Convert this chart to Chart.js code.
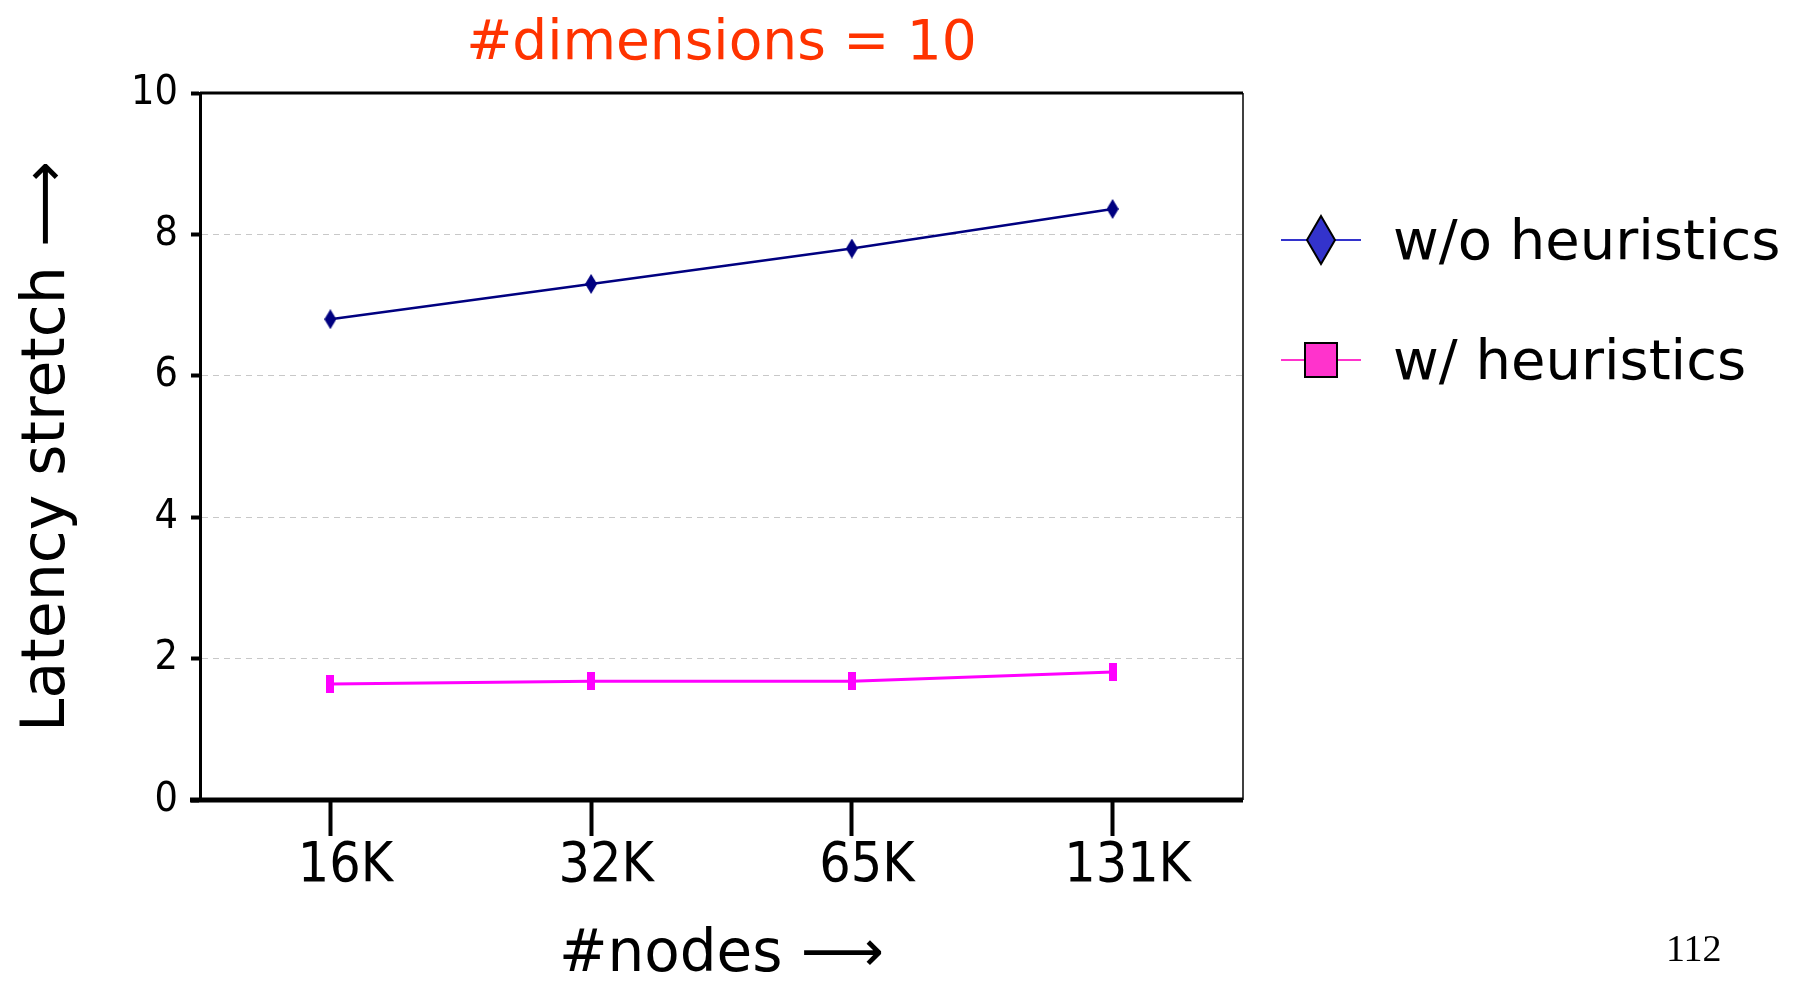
<!DOCTYPE html>
<html>
<head>
<meta charset="utf-8">
<script src="https://cdn.jsdelivr.net/npm/chart.js@4.4.1/dist/chart.umd.min.js"></script>
<style>
  html, body { margin: 0; padding: 0; background: #fff; }
  #wrap { position: relative; width: 1804px; height: 982px; }
  #pagina { position: absolute; left: 1666px; top: 926px; font: 38px 'Liberation Serif', 'DejaVu Serif', serif; color: #000; }
</style>
</head>
<body>
<div id="wrap">
  <canvas id="grafico" width="1804" height="982"></canvas>
  <div id="pagina">112</div>
</div>
<script>
// Dados
const nos = ['16K', '32K', '65K', '131K'];
const semHeuristicas = [6.8, 7.3, 7.8, 8.36];
const comHeuristicas = [1.64, 1.68, 1.68, 1.81];
const yTicks = [0, 2, 4, 6, 8, 10];

const fonteNarrow = "'Liberation Sans Narrow', 'DejaVu Sans Condensed', 'Liberation Sans', sans-serif";
const fonteTexto = "'DejaVu Sans', 'Noto Sans', sans-serif";

// Marcadores dos pontos (desenhados em canvas pequeno)
function marcador(w, h, desenhar) {
  const c = document.createElement('canvas');
  c.width = w;
  c.height = h;
  desenhar(c.getContext('2d'), w, h);
  return c;
}

const losango = marcador(12, 20, (ctx, w, h) => {
  ctx.fillStyle = '#000080';
  ctx.beginPath();
  ctx.moveTo(w / 2, 0);
  ctx.lineTo(w, h / 2);
  ctx.lineTo(w / 2, h);
  ctx.lineTo(0, h / 2);
  ctx.closePath();
  ctx.fill();
});

const barrinha = marcador(8, 18, (ctx, w, h) => {
  ctx.fillStyle = '#ff00ff';
  ctx.fillRect(0, 0, w, h);
});

// Moldura: borda de cima, da direita e eixo de baixo
const moldura = {
  id: 'moldura',
  beforeDatasetsDraw(chart) {
    const { ctx, chartArea: { left, right, top, bottom } } = chart;
    ctx.save();
    ctx.strokeStyle = '#000';
    ctx.lineWidth = 3;
    ctx.beginPath();
    ctx.moveTo(left, top);
    ctx.lineTo(right, top);
    ctx.stroke();
    ctx.lineWidth = 1.5;
    ctx.beginPath();
    ctx.moveTo(right, top);
    ctx.lineTo(right, bottom);
    ctx.stroke();
    ctx.lineWidth = 5;
    ctx.beginPath();
    ctx.moveTo(left - 10, bottom);
    ctx.lineTo(right, bottom);
    ctx.stroke();
    ctx.restore();
  }
};

// Legenda à direita
const legendaLateral = {
  id: 'legendaLateral',
  afterDraw(chart, args, opts) {
    const { ctx, chartArea } = chart;
    ctx.save();
    chart.data.datasets.forEach((ds, i) => {
      const y = chartArea.top + opts.top + i * opts.spacing;
      const x0 = chartArea.right + opts.offset;
      const cx = x0 + 40;

      ctx.strokeStyle = ds.legendColor;
      ctx.lineWidth = 2;
      ctx.beginPath();
      ctx.moveTo(x0, y);
      ctx.lineTo(x0 + 80, y);
      ctx.stroke();

      ctx.fillStyle = ds.legendColor;
      ctx.strokeStyle = '#000';
      ctx.lineWidth = 2;
      ctx.beginPath();
      if (ds.legendMarker === 'diamond') {
        ctx.moveTo(cx, y - 24);
        ctx.lineTo(cx + 14, y);
        ctx.lineTo(cx, y + 24);
        ctx.lineTo(cx - 14, y);
        ctx.closePath();
      } else {
        ctx.rect(cx - 16, y - 17, 32, 34);
      }
      ctx.fill();
      ctx.stroke();

      ctx.fillStyle = '#000';
      ctx.font = `56px ${fonteTexto}`;
      ctx.textAlign = 'left';
      ctx.textBaseline = 'middle';
      ctx.fillText(ds.label, x0 + 112, y + opts.textShift);
    });
    ctx.restore();
  }
};

const grafico = new Chart(document.getElementById('grafico'), {
  type: 'line',
  data: {
    labels: nos,
    datasets: [
      {
        label: 'w/o heuristics',
        data: semHeuristicas,
        borderColor: '#000080',
        backgroundColor: '#000080',
        borderWidth: 2.5,
        pointStyle: losango,
        pointRadius: 10,
        pointHoverRadius: 10,
        legendColor: '#3333cc',
        legendMarker: 'diamond'
      },
      {
        label: 'w/ heuristics',
        data: comHeuristicas,
        borderColor: '#ff00ff',
        backgroundColor: '#ff00ff',
        borderWidth: 3,
        pointStyle: barrinha,
        pointRadius: 10,
        pointHoverRadius: 10,
        legendColor: '#ff33cc',
        legendMarker: 'square'
      }
    ]
  },
  options: {
    responsive: false,
    animation: false,
    layout: { padding: { top: 0, right: 561, bottom: 0, left: 0 } },
    plugins: {
      legend: { display: false },
      tooltip: { enabled: false },
      title: {
        display: true,
        fullSize: false,
        text: '#dimensions = 10',
        color: '#ff3300',
        font: { family: fonteTexto, size: 55, weight: 'normal', lineHeight: 1.2 },
        padding: { top: 12, bottom: 15 }
      },
      legendaLateral: { top: 147, spacing: 120, offset: 38, textShift: 4 }
    },
    scales: {
      x: {
        offset: true,
        afterFit: s => { s.height = 182; },
        border: { display: false },
        grid: {
          drawOnChartArea: false,
          drawTicks: true,
          tickLength: 36,
          tickWidth: 4,
          tickColor: '#000',
          offset: false
        },
        ticks: {
          color: '#000',
          font: { family: fonteNarrow, size: 55 },
          padding: -2,
          labelOffset: 15,
          maxRotation: 0
        },
        title: {
          display: true,
          text: '#nodes \u27F6',
          color: '#000',
          font: { family: fonteTexto, size: 58, lineHeight: 1.0 },
          padding: { top: 0, bottom: -3 }
        }
      },
      y: {
        min: 0,
        max: 10,
        afterBuildTicks: s => { s.ticks = yTicks.map(v => ({ value: v })); },
        afterFit: s => { s.width = 200; },
        border: { display: true, color: '#000', width: 3, dash: [6, 5] },
        grid: {
          color: c => (c.tick && (c.tick.value === 0 || c.tick.value === 10)) ? 'rgba(0,0,0,0)' : '#c8c8c8',
          lineWidth: 1,
          tickLength: 9,
          tickWidth: 4,
          tickColor: '#000'
        },
        ticks: {
          color: '#000',
          font: { family: fonteNarrow, size: 41 },
          padding: 13
        },
        title: {
          display: true,
          text: 'Latency stretch \u27F6',
          color: '#000',
          font: { family: fonteTexto, size: 60, lineHeight: 1.2 },
          padding: { top: 12, bottom: 0 }
        }
      }
    }
  },
  plugins: [moldura, legendaLateral]
});
</script>
</body>
</html>
